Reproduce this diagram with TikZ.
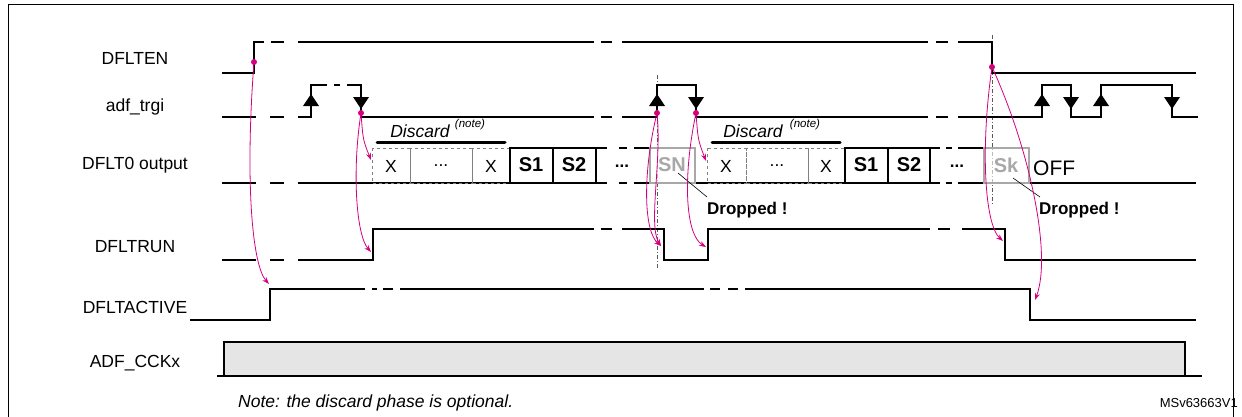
\documentclass[tikz,border=0pt]{standalone}
\usepackage{fontspec}
\setmainfont{Liberation Sans}
\usetikzlibrary{arrows.meta}
\definecolor{mag}{HTML}{D4007F}
\definecolor{gb}{HTML}{A8A8A8}
\begin{document}
\begin{tikzpicture}[x=1pt,y=-1pt,
  sig/.style={line width=1.6pt,black},
  lab/.style={font=\fontsize{17.5}{20}\selectfont},
  bx/.style={font=\fontsize{20}{22}\bfseries},
  box/.style={draw=gray,dashed,line width=0.6pt},
  sbox/.style={draw=black,line width=1.6pt},
  gbox/.style={draw=gb,line width=1.4pt},
  ev/.style={mag,line width=0.8pt,-{Stealth[length=7pt,width=5pt]}},
  dot/.style={circle,fill=mag,inner sep=0pt,minimum size=6pt},
  vmark/.style={gray!70!black,line width=0.6pt,dash pattern=on 4pt off 2pt on 1pt off 2pt},
  ]
\useasboundingbox (0,0) rectangle (1242,416);
\draw[line width=1pt] (8,4) rectangle (1233,420);
% labels
\node[lab] (l1) at (135,58) {DFLTEN};
\node[lab] (l2) at (135,107) {adf\_trgi};
\node[lab] (l3) at (135,165) {DFLT0 output};
\node[lab] (l4) at (135,247) {DFLTRUN};
\node[lab] (l5) at (135,307) {DFLTACTIVE};
\node[lab] (l6) at (135,363) {ADF\_CCKx};
% vertical markers
\draw[vmark] (657,75)--(657,268);
\draw[vmark] (992,35)--(992,205);
% DFLTEN
\draw[sig] (222,73)--(254,73)--(254,42)--(264,42);
\draw[sig] (271,42)--(284,42); \draw[sig] (298,42)--(594,42);
\draw[sig] (601,42)--(612,42); \draw[sig] (622,42)--(928,42);
\draw[sig] (936,42)--(948,42); \draw[sig] (958,42)--(992,42)--(992,73)--(1196,73);
% adf_trgi
\draw[sig] (222,117)--(256,117); \draw[sig] (270,117)--(284,117);
\draw[sig] (298,117)--(311,117)--(311,85)--(327,85);
\draw[sig] (334,85)--(340,85); \draw[sig] (347,85)--(361,85)--(361,117)--(594,117);
\draw[sig] (601,117)--(612,117);
\draw[sig] (622,117)--(657,117)--(657,85)--(696,85)--(696,117)--(928,117);
\draw[sig] (936,117)--(948,117);
\draw[sig] (958,117)--(1042,117)--(1042,85)--(1071,85)--(1071,117)--(1101,117)--(1101,85)--(1172,85)--(1172,117)--(1198,117);
\foreach \x in {311,657,1042,1101}{\fill (\x-8,106)--(\x+8,106)--(\x,94)--cycle;}
\foreach \x in {361,696,1071,1172}{\fill (\x-8,97)--(\x+8,97)--(\x,109)--cycle;}
% DFLT0 output
\draw[sig] (222,183)--(256,183); \draw[sig] (270,183)--(284,183);
\draw[sig] (298,183)--(607,183); \draw[sig] (510,148)--(607,148);
\draw[sig] (619,183)--(627,183); \draw[sig] (619,148)--(627,148);
\draw[sig] (634,183)--(940,183); \draw[sig] (634,148)--(650,148);
\draw[sig] (845,148)--(940,148);
\draw[sig] (946,183)--(952,183); \draw[sig] (946,148)--(952,148);
\draw[sig] (958,183)--(1196,183); \draw[sig] (958,148)--(984,148);
\draw[box] (372,148) rectangle (410,183); \draw[box] (410,148) rectangle (472,183); \draw[box] (472,148) rectangle (510,183);
\draw[box] (707,148) rectangle (746,183); \draw[box] (746,148) rectangle (808,183); \draw[box] (808,148) rectangle (845,183);
\node[lab] (x1) at (391,166) {X}; \node[lab] (d1) at (441,166) {...}; \node[lab] (x2) at (491,166) {X};
\node[lab] (x3) at (726,166) {X}; \node[lab] (d2) at (777,166) {...}; \node[lab] (x4) at (826,166) {X};
\draw[sbox,fill=white] (510,148) rectangle (553,183); \draw[sbox,fill=white] (553,148) rectangle (596,183);
\draw[sbox,fill=white] (845,148) rectangle (888,183); \draw[sbox,fill=white] (888,148) rectangle (930,183);
\node[bx] (s1) at (531,165) {S1};
\node[bx] (s2) at (574,165) {S2};
\node[bx] (s3) at (866,165) {S1};
\node[bx] (s4) at (909,165) {S2};
\node[font=\fontsize{17}{18}\bfseries] (e1) at (622,166) {...};
\node[font=\fontsize{17}{18}\bfseries] (e2) at (957,166) {...};
\draw[gbox,fill=white,fill opacity=0.6] (650,148) rectangle (695,183);
\draw[gbox,fill=white,fill opacity=0.6] (984,148) rectangle (1029,183);
\node[bx,text=gb] (sn) at (672,165) {SN};
\node[bx,text=gb] (sk) at (1006,165) {Sk};
\node[font=\fontsize{21}{22}\selectfont,anchor=west,inner sep=0pt] (off) at (1033,168) {OFF};
\node[font=\fontsize{17}{18}\bfseries,anchor=west,inner sep=0pt] (dr1) at (707,210) {Dropped !};
\node[font=\fontsize{17}{18}\bfseries,anchor=west,inner sep=0pt] (dr2) at (1039,210) {Dropped !};
\draw[line width=0.6pt] (678,173)--(707,197);
\draw[line width=0.6pt] (1013,178)--(1040,197);
% discard bars
\draw[line width=3pt,line cap=round] (377,142)--(505,142);
\draw[line width=3pt,line cap=round] (712,142)--(840,142);
\node[font=\fontsize{17.5}{19}\itshape] (dc1) at (420,131) {Discard};
\node[font=\fontsize{11.5}{12}\itshape] (n1) at (470,125) {(note)};
\node[font=\fontsize{17.5}{19}\itshape] (dc2) at (753,131) {Discard};
\node[font=\fontsize{11.5}{12}\itshape] (n2) at (805,125) {(note)};
% DFLTRUN
\draw[sig] (222,260)--(256,260); \draw[sig] (270,260)--(284,260);
\draw[sig] (298,260)--(373,260)--(373,229)--(594,229);
\draw[sig] (601,229)--(612,229);
\draw[sig] (622,229)--(664,229)--(664,260)--(708,260)--(708,229)--(930,229);
\draw[sig] (938,229)--(950,229);
\draw[sig] (962,229)--(1005,229)--(1005,260)--(1196,260);
% DFLTACTIVE
\draw[sig] (190,320)--(270,320)--(270,289)--(365,289);
\draw[sig] (372,289)--(377,289); \draw[sig] (383,289)--(393,289);
\draw[sig] (400,289)--(704,289);
\draw[sig] (710,289)--(720,289); \draw[sig] (728,289)--(738,289);
\draw[sig] (745,289)--(1030,289)--(1030,320)--(1196,320);
% ADF_CCKx
\draw[sig,fill=gray!20] (224,376)--(224,342)--(1185,342)--(1185,376);
\draw[sig] (217,376)--(1202,376);
% notes
\node[font=\fontsize{17.5}{19}\itshape,anchor=west,inner sep=0pt] (nt) at (238,403) {Note: the discard phase is optional.};
\node[font=\fontsize{13}{14}\selectfont,anchor=east,inner sep=0pt] (ms) at (1238,403) {MSv63663V1};
% events
\node[dot] (p1) at (254,62) {};
\node[dot] (p2) at (361,113) {};
\node[dot] (p3) at (657,113) {};
\node[dot] (p4) at (696,113) {};
\node[dot] (p5) at (992,67) {};
\coordinate (t1) at (269,284);
\coordinate (t2) at (371,160);
\coordinate (t3) at (371,252);
\coordinate (t4) at (661,246);
\coordinate (t5) at (706,161);
\coordinate (t6) at (706,247);
\coordinate (t7) at (1003,241);
\coordinate (t8) at (1035,300);
\draw[ev] (p1.center) .. controls (245,180) and (252,265) .. (t1);
\draw[ev] (p2.center) .. controls (363,140) .. (t2);
\draw[ev] (p2.center) .. controls (352,170) and (356,235) .. (t3);
\draw[ev] (p3.center) .. controls (643,170) and (643,230) .. (t4);
\draw[ev] (p3.center) .. controls (662,160) and (648,225) .. (t4);
\draw[ev] (p4.center) .. controls (698,140) .. (t5);
\draw[ev] (p4.center) .. controls (682,180) and (686,235) .. (t6);
\draw[ev] (p5.center) .. controls (980,150) and (985,225) .. (t7);
\draw[ev] (p5.center) .. controls (1030,150) and (1052,255) .. (t8);
\end{tikzpicture}
\end{document}
